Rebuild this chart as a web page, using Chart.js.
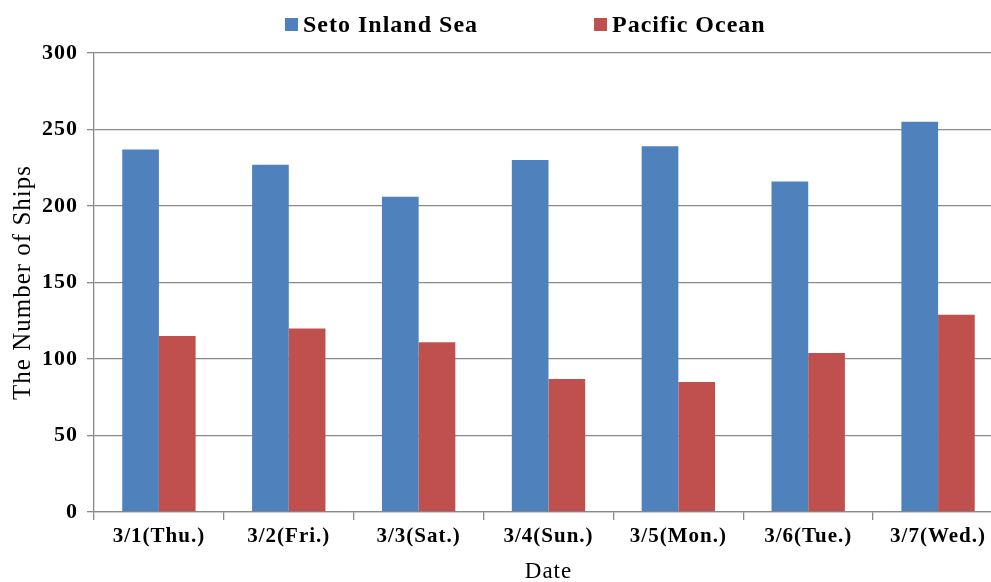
<!DOCTYPE html>
<html>
<head>
<meta charset="utf-8">
<script src="https://cdn.jsdelivr.net/npm/chart.js@4/dist/chart.umd.min.js"></script>
<style>
html, body { margin: 0; padding: 0; overflow: hidden; background: #fff; }
#wrap { position: relative; width: 1008px; height: 582px; }
</style>
</head>
<body>
<div id="wrap"><canvas id="c"></canvas></div>
<script>
const categories = ['3/1(Thu.)', '3/2(Fri.)', '3/3(Sat.)', '3/4(Sun.)', '3/5(Mon.)', '3/6(Tue.)', '3/7(Wed.)'];
const setoInlandSea = [237, 227, 206, 230, 239, 216, 255];
const pacificOcean = [115, 120, 111, 87, 85, 104, 129];
const yTicks = [0, 50, 100, 150, 200, 250, 300];
const seriesNames = ['Seto Inland Sea', 'Pacific Ocean'];
const seriesColors = ['#4F81BD', '#C0504D'];

const SERIF = '"Liberation Serif", "Times New Roman", serif';
const SPACING = '1px';

const spacingPlugin = {
  id: 'spacing',
  afterInit(chart) { chart.ctx.letterSpacing = SPACING; },
  beforeUpdate(chart) { chart.ctx.letterSpacing = SPACING; },
  beforeDraw(chart) { chart.ctx.letterSpacing = SPACING; }
};

const legendPlugin = {
  id: 'customLegend',
  afterDraw(chart) {
    const ctx = chart.ctx;
    ctx.save();
    ctx.letterSpacing = '1px';
    ctx.font = 'bold 24px ' + SERIF;
    ctx.textBaseline = 'alphabetic';
    ctx.textAlign = 'left';
    let x = 285;
    chart.data.datasets.forEach((ds, i) => {
      ctx.fillStyle = ds.backgroundColor;
      ctx.fillRect(x, 18, 13, 13);
      ctx.fillStyle = '#000';
      ctx.fillText(ds.label, x + 18, 32);
      x += 18 + ctx.measureText(ds.label).width + 116;
    });
    ctx.restore();
  }
};

new Chart(document.getElementById('c'), {
  type: 'bar',
  data: {
    labels: categories,
    datasets: [
      { label: seriesNames[0], data: setoInlandSea, backgroundColor: seriesColors[0], borderWidth: 0 },
      { label: seriesNames[1], data: pacificOcean, backgroundColor: seriesColors[1], borderWidth: 0 }
    ]
  },
  options: {
    responsive: true,
    maintainAspectRatio: false,
    animation: false,
    devicePixelRatio: 1,
    layout: { padding: { top: 53, right: 5, left: 0, bottom: 0 } },
    datasets: { bar: { categoryPercentage: 0.565, barPercentage: 1.0 } },
    plugins: {
      legend: { display: false },
      tooltip: { enabled: false }
    },
    scales: {
      x: {
        offset: true,
        grid: { offset: true, drawOnChartArea: false, drawTicks: true, tickLength: 8, color: '#8a8a8a', lineWidth: 1.3 },
        border: { display: true, color: '#8a8a8a', width: 1.3 },
        ticks: { color: '#000', font: { family: SERIF, size: 21, weight: 'bold' }, padding: 4, maxRotation: 0, autoSkip: false },
        title: { display: true, text: 'Date', color: '#000', font: { family: SERIF, size: 23, lineHeight: 0.9 }, padding: { top: 0, bottom: 0 } },
        afterFit(scale) { scale.height = 70; }
      },
      y: {
        min: 0,
        max: 300,
        afterBuildTicks(scale) { scale.ticks = yTicks.map(v => ({ value: v })); },
        grid: { color: '#8a8a8a', lineWidth: 1.3, drawTicks: true, tickLength: 7 },
        border: { display: true, color: '#8a8a8a', width: 1.3 },
        ticks: { color: '#000', font: { family: SERIF, size: 22, weight: 'bold' }, padding: 9 },
        title: { display: true, text: 'The Number of Ships', color: '#000', font: { family: SERIF, size: 25 }, padding: { top: 8, bottom: 0 } },
        afterFit(scale) { scale.width = 94; }
      }
    }
  },
  plugins: [spacingPlugin, legendPlugin]
});
</script>
</body>
</html>
